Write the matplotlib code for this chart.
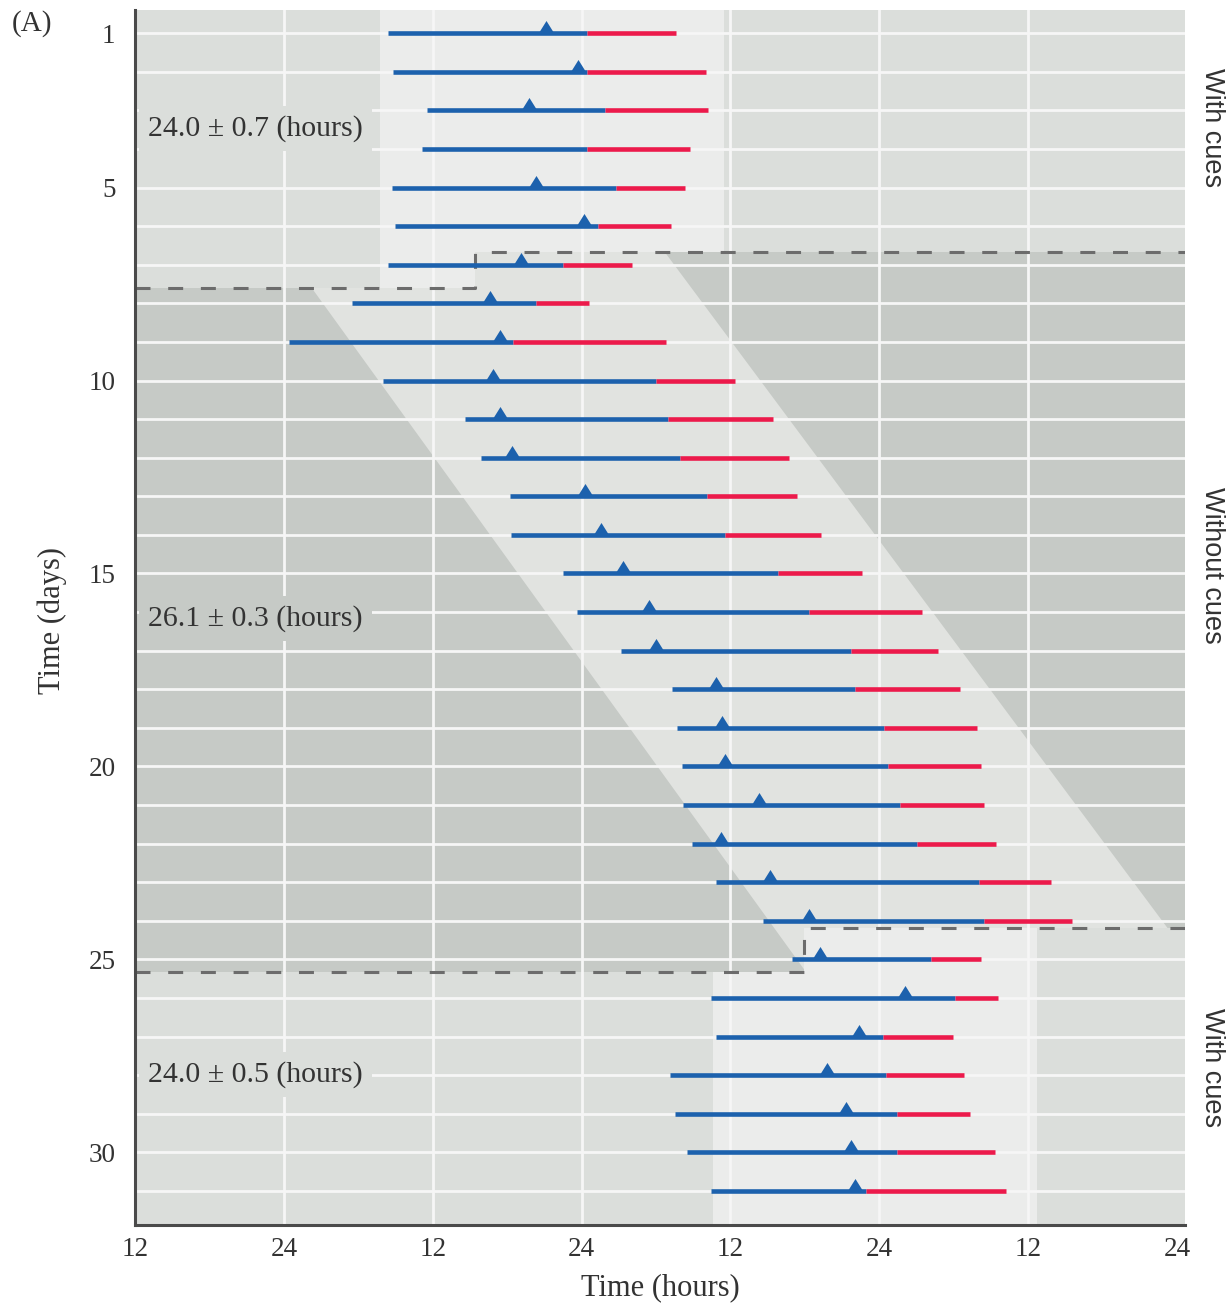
"""Free-running sleep/wake raster with and without environmental cues."""
import numpy as np
import matplotlib
matplotlib.use("Agg")
import matplotlib.pyplot as plt
from matplotlib.patches import Polygon

plt.rcParams.update({"font.family": "Liberation Serif", "text.color": "#333333"})

# hours counted from the first noon on the axis (0 = "12", 12 = "24", ...)
days = np.arange(1, 32)
blue_start = [20.4, 20.8, 23.5, 23.1, 20.7, 21.0, 20.4, 17.5, 12.4, 20.0,
              26.6, 27.9, 30.2, 30.3, 34.5, 35.6, 39.2, 43.3, 43.7, 44.1,
              44.2, 44.9, 46.8, 50.6, 53.0, 46.4, 46.8, 43.1, 43.5, 44.5, 46.4]
red_start = [36.4, 36.4, 37.9, 36.4, 38.8, 37.3, 34.5, 32.3, 30.5, 42.0,
             43.0, 43.9, 46.1, 47.6, 51.8, 54.3, 57.7, 58.0, 60.4, 60.7,
             61.7, 63.0, 68.0, 68.4, 64.2, 66.1, 60.3, 60.5, 61.4, 61.4, 58.9]
red_end = [43.6, 46.0, 46.2, 44.7, 44.3, 43.2, 40.1, 36.6, 42.8, 48.4,
           51.4, 52.7, 53.4, 55.3, 58.6, 63.4, 64.7, 66.5, 67.9, 68.2,
           68.4, 69.4, 73.8, 75.5, 68.2, 69.6, 65.9, 66.8, 67.3, 69.3, 70.2]
peak = [33.1, 35.7, 31.8, np.nan, 32.3, 36.2, 31.1, 28.6, 29.4, 28.9,
        29.4, 30.4, 36.3, 37.6, 39.3, 41.4, 42.0, 46.8, 47.3, 47.6,
        50.3, 47.2, 51.2, 54.3, 55.2, 62.1, 58.4, 55.8, 57.3, 57.7, 58.0]

x_ticks = [0, 12, 24, 36, 48, 60, 72, 84]
x_tick_labels = ["12", "24", "12", "24", "12", "24", "12", "24"]
y_ticks = [1, 5, 10, 15, 20, 25, 30]

periods = ["24.0 \u00b1 0.7 (hours)", "26.1 \u00b1 0.3 (hours)", "24.0 \u00b1 0.5 (hours)"]
period_rows = [3.46, 16.16, 27.99]
phase_labels = ["With cues", "Without cues", "With cues"]

# section boundaries (day) and the step position (hours)
top_end_left, top_end_right, top_step = 7.61, 6.67, 27.41
bot_start_left, bot_start_right, bot_step = 25.33, 24.19, 53.93

XMAX = 84.64
YTOP, YBOT = 0.40, 31.88

C_DARK = "#c6cac6"
C_CUE = "#dbdedb"
C_BAND = "#e1e3e0"
C_WINDOW = "#ebeceb"
BLUE = "#1c61ad"
RED = "#ec1a4b"

fig = plt.figure(figsize=(12.28, 13.03), dpi=100)
ax = fig.add_axes([0.1099, 0.0599, 0.965 - 0.1099, 0.9923 - 0.0599])
ax.set_facecolor(C_DARK)

# drifting band during the free-running days
ax.add_patch(Polygon([(10.65, 6), (41.15, 6), (89.74, 27), (57.85, 27)],
                     closed=True, fc=C_BAND, ec="none", zorder=0.2))

# entrained sections at top and bottom
ax.add_patch(Polygon([(0, 0), (XMAX, 0), (XMAX, top_end_right), (top_step, top_end_right),
                      (top_step, top_end_left), (0, top_end_left)],
                     closed=True, fc=C_CUE, ec="none", zorder=0.3))
ax.add_patch(Polygon([(19.75, 0), (47.5, 0), (47.5, top_end_right), (top_step, top_end_right),
                      (top_step, top_end_left), (19.75, top_end_left)],
                     closed=True, fc=C_WINDOW, ec="none", zorder=0.4))
ax.add_patch(Polygon([(0, bot_start_left), (bot_step, bot_start_left), (bot_step, bot_start_right),
                      (XMAX, bot_start_right), (XMAX, 33), (0, 33)],
                     closed=True, fc=C_CUE, ec="none", zorder=0.3))
ax.add_patch(Polygon([(46.6, bot_start_left), (bot_step, bot_start_left), (bot_step, bot_start_right),
                      (72.7, bot_start_right), (72.7, 33), (46.6, 33)],
                     closed=True, fc=C_WINDOW, ec="none", zorder=0.4))

# white grid
for d in days:
    ax.axhline(d, color="#f6f6f6", lw=2.0, zorder=1)
for x in x_ticks[1:-1]:
    ax.axvline(x, color="#f6f6f6", lw=2.0, zorder=1)

# step boundaries between sections
dash = dict(color="#6c6c6c", lw=2.2, dashes=(4.9, 5.8), zorder=2)
ax.plot([0, top_step, top_step, XMAX],
        [top_end_left, top_end_left, top_end_right, top_end_right], **dash)
ax.plot([0, bot_step, bot_step, XMAX],
        [bot_start_left, bot_start_left, bot_start_right, bot_start_right], **dash)

# activity bars
for d, b0, r0, r1 in zip(days, blue_start, red_start, red_end):
    ax.plot([b0, r0], [d, d], color=BLUE, lw=3.3, solid_capstyle="butt", zorder=3)
    ax.plot([r0, r1], [d, d], color=RED, lw=3.3, solid_capstyle="butt", zorder=3)

tri = [(-0.625, 0), (0.625, 0), (0, 1)]
ax.plot(peak, days, ls="none", marker=tri, ms=18, color=BLUE, mec="none", zorder=4)

# period annotations
for txt, row, bg in zip(periods, period_rows, [C_CUE, C_DARK, C_CUE]):
    ax.text(1.05, row, txt, fontsize=21.5, ha="left", va="center", zorder=2.5,
            bbox=dict(boxstyle="square,pad=0.3", fc=bg, ec="none"))

ax.set_xlim(0, XMAX)
ax.set_ylim(YBOT, YTOP)
ax.set_xticks(x_ticks, x_tick_labels)
ax.set_yticks(y_ticks)
ax.tick_params(length=0, labelsize=19.5, colors="#333333")
ax.tick_params(axis="y", pad=14)
ax.tick_params(axis="x", pad=9)
for side in ["top", "right"]:
    ax.spines[side].set_visible(False)
for side in ["left", "bottom"]:
    ax.spines[side].set_color("#4a4a4a")
    ax.spines[side].set_linewidth(2.2)
    ax.spines[side].set_zorder(5)

fig.text(0.0425, 0.524, "Time (days)", rotation=90, fontsize=22, ha="center", va="center")
fig.text(0.5375, 0.0115, "Time (hours)", fontsize=22, ha="center", va="center")
fig.text(0.0098, 0.982, "(A)", fontsize=21, ha="left", va="center")

for txt, yp in zip(phase_labels, [128, 565, 1068]):
    fig.text(0.987, 1 - yp / 1303, txt, rotation=-90, fontsize=19.5, ha="center", va="center",
             family="Liberation Sans")

fig.savefig("out.png", dpi=100)
